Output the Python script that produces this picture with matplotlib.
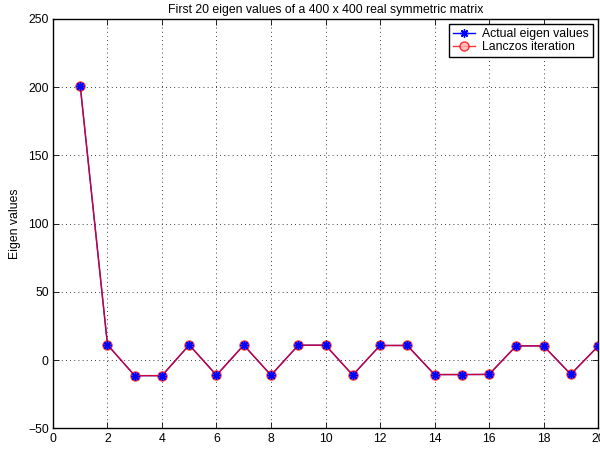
import numpy as np
import matplotlib
matplotlib.use("Agg")
import matplotlib.pyplot as plt

# first 20 eigenvalues of a 400 x 400 symmetric matrix
index = np.arange(1, 21)
actual = [201.0, 11.3, -11.3, -11.3, 11.2, -11.0, 11.1, -11.0, 11.0, 11.0,
          -10.9, 10.8, 10.8, -10.5, -10.5, -10.4, 10.5, 10.5, -10.3, 10.2]
lanczos = [201.0, 11.3, -11.3, -11.3, 11.2, -11.0, 11.1, -11.0, 11.0, 11.0,
           -10.9, 10.8, 10.8, -10.5, -10.5, -10.4, 10.5, 10.5, -10.3, 10.2]

FS = 8.8
plt.rcParams["font.family"] = ["Liberation Sans", "DejaVu Sans"]
plt.rcParams["font.size"] = FS

fig = plt.figure(figsize=(6, 4.5), dpi=100)
ax = fig.add_axes([0.0883, 0.0478, 0.9084, 0.9102])

star = (8, 2, 0)
h1, = ax.plot(index, actual, color="blue", lw=1.0, marker=star, ms=6, mew=1.0,
              label="Actual eigen values", zorder=2)
h2, = ax.plot(index, lanczos, color="red", lw=1.0, marker="o", ms=6.5,
              mfc=(1, 0.7, 0.7), mec="red", mew=1.0, alpha=0.8,
              label="Lanczos iteration", zorder=2.5)
# keep the asterisks visible on top of the circles
ax.plot(index, actual, ls="none", color="blue", marker=star, ms=6, mew=1.2,
        zorder=3)

ax.set_xlim(0, 20)
ax.set_ylim(-50, 250)
ax.set_xticks(np.arange(0, 21, 2))
ax.set_yticks(np.arange(-50, 251, 50))
ax.grid(True, color="black", linestyle=(0, (1, 4)), linewidth=0.6)
ax.tick_params(direction="in", top=True, right=True, length=4, width=0.6,
               labelsize=FS, pad=3)
ax.yaxis.set_major_formatter(plt.FuncFormatter(lambda v, p: f"{v:g}".replace("-", "\u2212")))
for s in ax.spines.values():
    s.set_linewidth(1.0)

ax.set_ylabel("Eigen values", fontsize=FS, labelpad=5)
ax.set_title("First 20 eigen values of a 400 x 400 real symmetric matrix",
             fontsize=FS, pad=4)

leg = ax.legend(handles=[h1, h2], loc="upper right", fontsize=FS,
                fancybox=False, framealpha=1, edgecolor="black",
                borderpad=0.3, labelspacing=0.1, handlelength=1.8,
                handletextpad=0.6, borderaxespad=0.45)
leg.get_frame().set_linewidth(1.0)

fig.savefig("out.png", dpi=100)
